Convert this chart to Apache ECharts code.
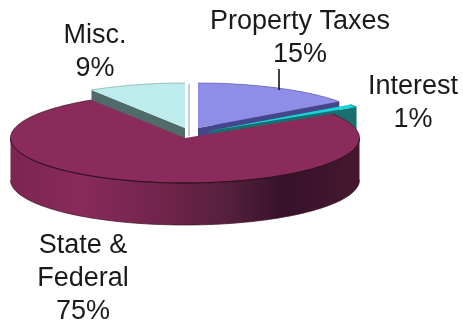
<!DOCTYPE html>
<html>
<head>
<meta charset="utf-8">
<style>html,body{margin:0;padding:0;background:#fff}#chart{width:463px;height:326px}</style>
<script src="https://cdn.jsdelivr.net/npm/echarts@6/dist/echarts.min.js"></script>
</head>
<body>
<div id="chart"></div>
<script>
// Revenue shares, listed clockwise from twelve o'clock.
const categories = ['Property Taxes', 'Interest', 'State &\nFederal', 'Misc.'];
const shares = [15, 1, 75, 9];

// Slices further back are painted first so the large slice sits on top of their walls.
const paintOrder = [0, 1, 3, 2];

// Ellipse of the tilted disc.
const disc = { cx: 185, cy: 138, rx: 174.5, ry: 45, depth: 42 };
// Pull-out of each slice from the disc centre.
const explode = [[13, -10], [24, -7], [0, 0], [0, -10]];

const topColors = ['#8e8ee8', '#12d8d8', '#8b2b5b', '#bcecec'];
const cutColors = ['#45458c', '#17706e', '#5a1c3c', '#4f6c6a'];
const rimColors = ['#6a6ab0', '#17706e', '#8b2b5b', '#7fa8a8'];
const labelBoxes = [[300, 38], [413, 103], [83, 279], [95, 52]];

const total = shares.reduce((a, b) => a + b, 0);
const starts = shares.map((_, i) => shares.slice(0, i).reduce((a, b) => a + b, 0) / total * 360);

// Point on the disc edge; angle is clockwise from twelve o'clock.
function edge(deg, ox, oy, drop) {
  const r = deg * Math.PI / 180;
  return [disc.cx + ox + disc.rx * Math.sin(r), disc.cy + oy - disc.ry * Math.cos(r) + (drop || 0)];
}
function arc(from, to, ox, oy, drop) {
  const pts = [];
  const step = from <= to ? 1 : -1;
  for (let a = from; step > 0 ? a < to : a > to; a += step) pts.push(edge(a, ox, oy, drop));
  pts.push(edge(to, ox, oy, drop));
  return pts;
}

const rimGradient = new echarts.graphic.LinearGradient(disc.cx - disc.rx, 0, disc.cx + disc.rx, 0, [
  { offset: 0, color: '#7c2550' },
  { offset: 0.2, color: '#892a5a' },
  { offset: 0.45, color: '#6f244a' },
  { offset: 0.62, color: '#55203c' },
  { offset: 0.78, color: '#36122a' },
  { offset: 1, color: '#46182f' }
], true);

function renderSlice(params, api) {
  const i = api.value(0);
  const sweep = api.value(1) / total * 360;
  const from = starts[i], to = from + sweep;
  const [ox, oy] = explode[i];
  const apex = [disc.cx + ox, disc.cy + oy];
  const kids = [];

  // Outer rim: only the part that faces the viewer.
  const rimFrom = Math.max(from, 90), rimTo = Math.min(to, 270);
  if (rimFrom < rimTo) {
    kids.push({
      type: 'polygon',
      shape: { points: arc(rimFrom, rimTo, ox, oy).concat(arc(rimTo, rimFrom, ox, oy, disc.depth)) },
      style: { fill: i === 2 ? rimGradient : cutColors[i] }
    });
  } else if (from < 90) {
    kids.push({
      type: 'polygon',
      shape: { points: arc(from, to, ox, oy).concat(arc(to, from, ox, oy, disc.depth)) },
      style: { fill: cutColors[i] }
    });
  }

  // Cut face visible on the trailing or leading radius.
  if (i !== 2) {
    const faceAngle = i === 3 ? from : to;
    const p = edge(faceAngle, ox, oy);
    kids.push({
      type: 'polygon',
      shape: { points: [apex, p, [p[0], p[1] + disc.depth], [apex[0], apex[1] + disc.depth]] },
      style: { fill: cutColors[i] }
    });
  }

  // Upper surface.
  kids.push({
    type: 'polygon',
    shape: { points: [apex].concat(arc(from, to, ox, oy)) },
    style: { fill: topColors[i] }
  });
  kids.push({
    type: 'polyline',
    shape: { points: arc(from, to, ox, oy) },
    style: { stroke: i === 2 ? '#3a1428' : rimColors[i], lineWidth: 0.7, fill: null }
  });

  // Front edge of the large slice's surface.
  if (i === 2) {
    kids.push({
      type: 'polyline',
      shape: { points: arc(rimFrom, rimTo, ox, oy) },
      style: { stroke: '#2a0e1e', lineWidth: 1, fill: null }
    });
    kids.push({
      type: 'polyline',
      shape: { points: arc(rimFrom, rimTo, ox, oy, disc.depth) },
      style: { stroke: '#3a1428', lineWidth: 0.7, fill: null }
    });
  }

  // Sliver of the small slice's far wall seen in the gap.
  if (i === 3) {
    kids.push({
      type: 'polygon',
      shape: { points: [[apex[0] + 3, disc.cy - disc.ry + oy + 1], [apex[0] + 5, disc.cy - disc.ry + oy + 1], [apex[0] + 5, apex[1] + 8], [apex[0] + 3, apex[1] + 8]] },
      style: { fill: '#c9cccc' }
    });
  }

  // Leader from the property-tax label to its slice.
  if (i === 0) {
    kids.push({
      type: 'line',
      shape: { x1: 279, y1: 69, x2: 279, y2: 90 },
      style: { stroke: '#111', lineWidth: 1.6 }
    });
  }

  kids.push({
    type: 'text',
    z2: 50,
    style: {
      text: categories[i] + '\n' + api.value(1) + '%',
      x: labelBoxes[i][0],
      y: labelBoxes[i][1],
      align: 'center',
      verticalAlign: 'middle',
      fill: '#1a1a1a',
      font: '27px "Liberation Sans", Arial, sans-serif',
      lineHeight: 33
    }
  });

  return { type: 'group', children: kids };
}

const chart = echarts.init(document.getElementById('chart'), null, { renderer: 'canvas' });
chart.setOption({
  animation: false,
  backgroundColor: '#ffffff',
  series: [{
    type: 'custom',
    coordinateSystem: 'none',
    renderItem: renderSlice,
    data: paintOrder.map(i => [i, shares[i]])
  }]
});
</script>
</body>
</html>
